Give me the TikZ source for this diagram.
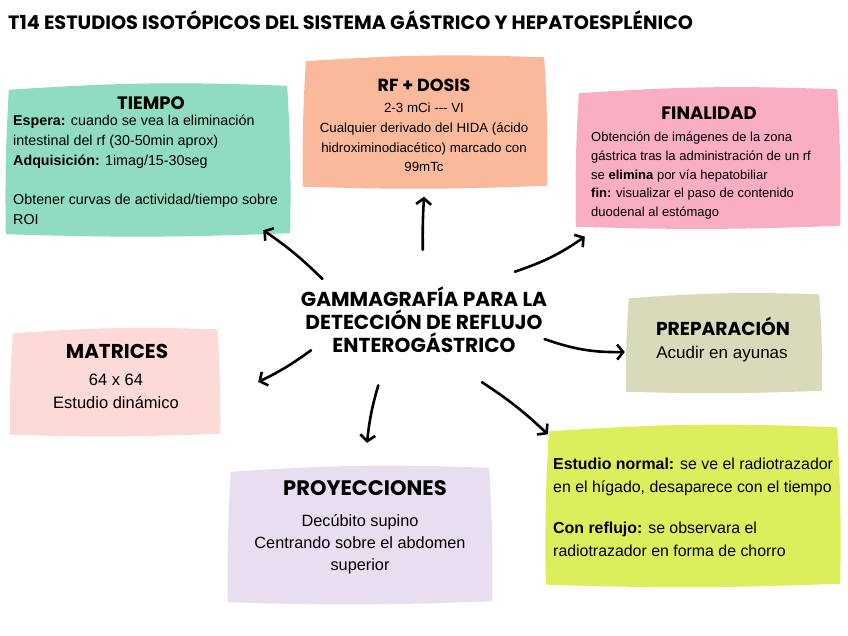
\documentclass[tikz,border=0pt]{standalone}
\usepackage{fontspec}
\setmainfont{Liberation Sans}
\newfontfamily\hand{Poppins}
\usetikzlibrary{arrows.meta,positioning,shapes.geometric,backgrounds}
\definecolor{verde}{HTML}{8FDCC2}
\definecolor{salmon}{HTML}{FBB99C}
\definecolor{rosa}{HTML}{F9AEC2}
\definecolor{rosaclaro}{HTML}{FBDAD8}
\definecolor{oliva}{HTML}{D8DABA}
\definecolor{lila}{HTML}{E9DDF0}
\definecolor{limon}{HTML}{DDEE5C}
\newcommand{\hf}[1]{\hand\bfseries\fontsize{#1}{#1}\selectfont}
\newcommand{\tf}[2]{\fontsize{#1}{#2}\selectfont}
\tikzset{
  hoja/.style={rectangle,inner sep=0pt},
  titulo/.style={inner sep=0pt},
  cuerpo/.style={inner sep=0pt,align=left},
  centro/.style={inner sep=0pt,align=center},
  flecha/.style={line width=2.6pt,line cap=round,-{Straight Barb[length=6pt,width=15pt]}}
}
% fondo con bordes algo irregulares
\newcommand{\papel}[2]{%
  \fill[#2] ([shift={(1,2)}]#1.north west) to[bend left=3] ([shift={(-1,-2)}]#1.north east)
    to[bend left=2] ([shift={(2,1)}]#1.south east) to[bend left=2] ([shift={(-2,2)}]#1.south west)
    to[bend left=2] cycle;}

\begin{document}
\begin{tikzpicture}[x=1pt,y=-1pt]
  \useasboundingbox (0,0) rectangle (848,636);
  \node[titulo,anchor=west,font=\hf{19.3}] (tit) at (8,20)
    {T14 ESTUDIOS ISOTÓPICOS DEL SISTEMA GÁSTRICO Y HEPATOESPLÉNICO};

  % cajas
  \node[hoja,minimum width=280,minimum height=144] (tiempo) at (148,160) {};
  \node[hoja,minimum width=240,minimum height=125] (rf) at (425,122) {};
  \node[hoja,minimum width=260,minimum height=133] (fin) at (708,158) {};
  \node[hoja,minimum width=206,minimum height=101] (mat) at (115,382) {};
  \node[hoja,minimum width=192,minimum height=93] (prep) at (724,343) {};
  \node[hoja,minimum width=260,minimum height=130] (proy) at (360,535) {};
  \node[hoja,minimum width=290,minimum height=153] (yel) at (693,506) {};
  \begin{scope}[on background layer]
    \papel{tiempo}{verde}
    \papel{rf}{salmon}
    \papel{fin}{rosa}
    \papel{mat}{rosaclaro}
    \papel{prep}{oliva}
    \papel{proy}{lila}
    \papel{yel}{limon}
  \end{scope}

  % textos
  \node[titulo,font=\hf{18}] (tiempoT) at (151,103) {TIEMPO};
  \node[cuerpo,anchor=north west,font=\tf{14.3}{19.8}] (tiempoB) at (13,115)
    {\textbf{Espera:} cuando se vea la eliminación\\
     intestinal del rf (30-50min aprox)\\
     \textbf{Adquisición:} 1imag/15-30seg\\[19.8pt]
     Obtener curvas de actividad/tiempo sobre\\ ROI};
  \node[titulo,font=\hf{17.5}] (rfT) at (424,85) {RF + DOSIS};
  \node[centro,anchor=north,font=\tf{13.3}{19.7}] (rfB) at (424,103)
    {2-3 mCi {-}{-}{-} VI\\ Cualquier derivado del HIDA (ácido\\
     hidroximinodiacético) marcado con\\ 99mTc};
  \node[titulo,font=\hf{18}] (finT) at (709,113) {FINALIDAD};
  \node[cuerpo,anchor=north west,font=\tf{13}{18.7}] (finB) at (591,132)
    {Obtención de imágenes de la zona\\
     gástrica tras la administración de un rf\\
     se \textbf{elimina} por vía hepatobiliar\\
     \textbf{fin:} visualizar el paso de contenido\\
     duodenal al estómago};
  \node[titulo,font=\hf{20}] (matT) at (117,351) {MATRICES};
  \node[centro,anchor=north,font=\tf{16.5}{23}] (matB) at (116,374)
    {64 x 64\\ Estudio dinámico};
  \node[titulo,font=\hf{18.7}] (prepT) at (723,326) {PREPARACIÓN};
  \node[centro,anchor=north,font=\tf{17}{20}] (prepB) at (722,346)
    {Acudir en ayunas};
  \node[titulo,font=\hf{21}] (proyT) at (365,488) {PROYECCIONES};
  \node[centro,anchor=north,font=\tf{16.3}{22}] (proyB) at (360,514)
    {Decúbito supino\\ Centrando sobre el abdomen\\ superior};
  \node[cuerpo,anchor=north west,font=\tf{15.9}{23}] (yelB) at (553,458)
    {\textbf{Estudio normal:} se ve el radiotrazador\\
     en el hígado, desaparece con el tiempo\\[18pt]
     \textbf{Con reflujo:} se observara el\\
     radiotrazador en forma de chorro};

  % nodo central
  \node[ellipse,minimum width=250,minimum height=140,inner sep=0pt] (hub) at (424,320) {};
  \node[centro,font=\hf{20.2}] (hubT) at (hub.center) {GAMMAGRAFÍA PARA LA\\[3pt] DETECCIÓN DE REFLUJO\\[3pt] ENTEROGÁSTRICO};

  % flechas
  \draw[flecha] (hub.158) to[bend right=5] ([shift={(-25,-2)}]tiempo.south east);
  \draw[flecha] (hub.91) to[bend left=2] ([shift={(-1,12)}]rf.south);
  \draw[flecha] (hub.28) to[bend right=8] ([shift={(7,12)}]fin.south west);
  \draw[flecha] (hub.-9) to[bend right=10] ([shift={(-3,9)}]prep.west);
  \draw[flecha] (hub.-47) to[bend left=5] ([shift={(0,5)}]yel.north west);
  \draw[flecha] (hub.-125) to[bend right=5] ([shift={(7,-27)}]proy.north);
  \draw[flecha] (hub.195) to[bend left=5] ([xshift=40]mat.east);
\end{tikzpicture}
\end{document}
